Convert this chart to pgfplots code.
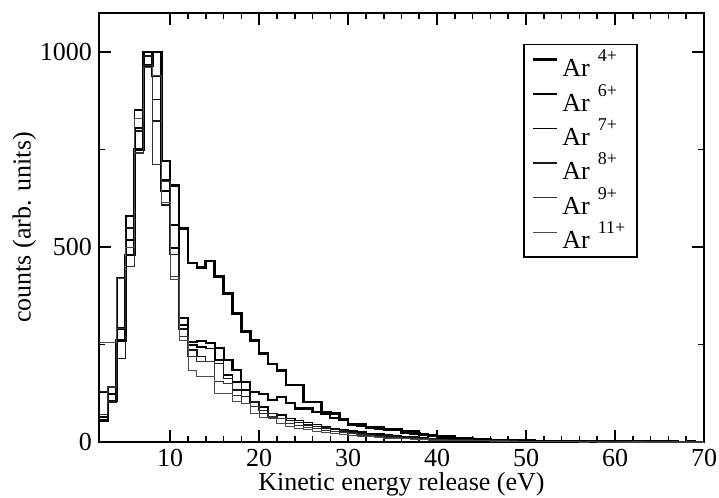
\documentclass[border=0pt]{standalone}
\usepackage{fontspec}
\setmainfont{Liberation Serif}
\usepackage{pgfplots}
\usepackage{pgfplotstable}
\pgfplotsset{compat=1.18}

\pgfplotstableread{
x A B C D E F
2 55 65 128 130 70 254
3 105 124 141 103 141 254
4 261 291 420 214 291 420
5 480 518 580 549 450 500
6 750 806 851 797 741 830
7 966 1000 966 990 966 960
8 1000 938 878 823 711 940
9 720 672 643 608 668 613
10 657 557 497 480 424 416
11 548 318 300 290 270 261
12 459 257 249 236 219 184
13 448 260 244 219 206 167
14 464 253 240 206 206 167
15 424 240 210 201 154 124
16 381 210 171 163 150 124
17 330 184 154 133 120 103
18 283 154 133 116 99 99
19 261 129 103 103 90 73
20 227 124 90 81 73 64
21 200 107 73 73 64 60
22 184 116 70 60 60 47
23 146 99 60 55 47 39
24 146 86 55 50 42 35
25 103 86 50 44 38 31
26 103 77 45 40 34 28
27 77 73 40 36 30 25
28 73 62 35 32 27 22
29 58 60 32 28 24 19
30 45 47 28 25 21 17
31 43 47 25 22 18 15
32 36 39 22 19 16 13
33 35 39 20 17 14 12
34 33 30 18 15 12 10
35 32 30 16 13 11 9
36 24 28 14 12 10 8
37 22 28 12 10 9 7
38 18 20 10 9 8 6
39 16 17 9 8 7 5
40 13 14 8 7 6 5
41 12 14 7 6 5 4
42 10 10 6 5 5 4
43 8 9 5 5 4 3
44 7 8 5 4 4 3
45 6 7 4 4 3 3
46 5 6 4 3 3 2
47 5 5 3 3 3 2
48 4 5 3 3 2 2
49 4 4 3 2 2 2
50 3 4 2 2 2 1
51 3 3 2 2 2 1
52 3 3 2 2 1 1
53 2 3 2 1 1 1
54 3 2 1 1 1 1
55 2 2 1 1 1 1
56 2 2 1 1 1 0
57 2 2 1 1 1 1
58 1 1 1 1 0 0
59 2 1 1 1 1 0
60 1 1 1 0 1 0
61 1 1 0 1 0 0
62 2 1 1 0 0 1
63 1 1 0 0 0 0
64 1 1 0 1 0 0
65 1 1 1 0 0 0
66 1 0 0 0 0 0
67 0 1 0 0 0 0
68 1 0 0 0 0 0
69 0 0 0 0 0 0
70 0 0 0 0 0 0
}\data

\newcommand{\ion}[1]{Ar\hspace{4bp}\raisebox{7.5bp}{\fontsize{9bp}{10bp}\selectfont #1}}

\begin{document}
\begin{tikzpicture}
\begin{axis}[
  width=302.5bp, height=214.5bp, scale only axis,
  xmin=2, xmax=70, ymin=0, ymax=1100,
  xtick={10,20,...,70}, ytick={0,500,1000},
  minor x tick num=4, minor y tick num=1,
  tick align=inside,
  major tick length=6bp, minor tick length=3bp,
  every tick/.style={black, line width=0.8pt},
  axis line style={line width=0.9pt},
  /pgf/number format/assume math mode=true,
  /pgf/number format/1000 sep={},
  ticklabel style={font=\fontsize{13bp}{15bp}\selectfont},
  label style={font=\fontsize{13bp}{15bp}\selectfont},
  xlabel={Kinetic energy release (eV)},
  ylabel={counts (arb. units)},
  xlabel style={yshift=4bp},
  ylabel style={yshift=-5bp},
  legend cell align=left,
  legend image code/.code={\draw[#1] (0bp,2.5bp) -- (12bp,2.5bp);},
  legend style={at={(axis description cs:0.891,0.928)}, anchor=north east,
    draw=black, line width=0.8pt, font=\fontsize{13bp}{15bp}\selectfont,
    row sep=1.3bp, inner xsep=4bp, inner ysep=2bp,
    nodes={inner ysep=0.5bp}},
]
\addplot[const plot, black, line width=1.3pt] table[x=x,y=A]{\data};
\addlegendentry{\ion{4+}}
\addplot[const plot, black, line width=1.05pt] table[x=x,y=B]{\data};
\addlegendentry{\ion{6+}}
\addplot[const plot, black, line width=0.85pt] table[x=x,y=C]{\data};
\addlegendentry{\ion{7+}}
\addplot[const plot, black!90, line width=0.7pt] table[x=x,y=D]{\data};
\addlegendentry{\ion{8+}}
\addplot[const plot, black!80, line width=0.55pt] table[x=x,y=E]{\data};
\addlegendentry{\ion{9+}}
\addplot[const plot, black!70, line width=0.45pt] table[x=x,y=F]{\data};
\addlegendentry{\ion{11+}}
\end{axis}
\pgfresetboundingbox
\path[use as bounding box] ([xshift=-49.5bp,yshift=-28bp]current axis.south west) rectangle ([xshift=7.5bp,yshift=6.5bp]current axis.north east);
\end{tikzpicture}
\end{document}
